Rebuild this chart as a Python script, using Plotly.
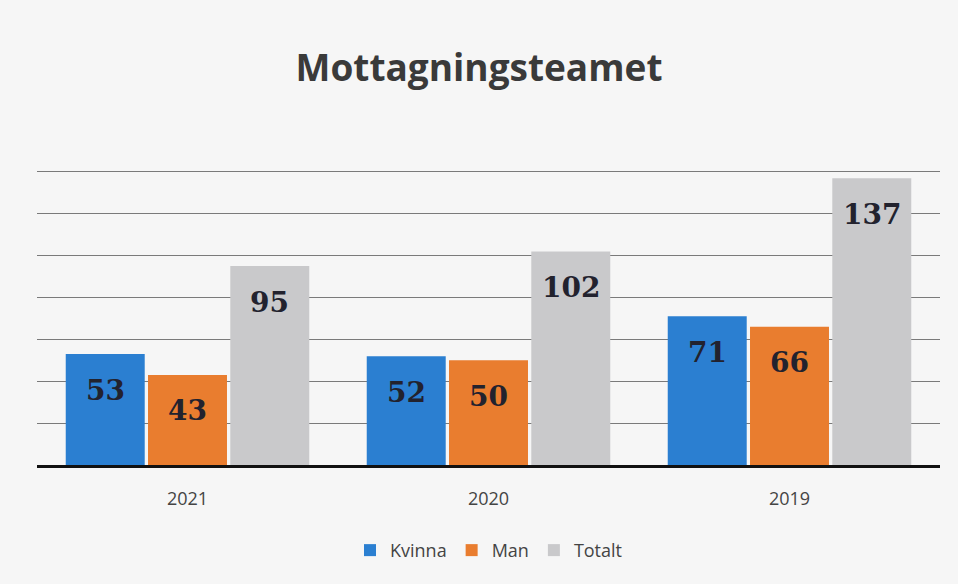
import plotly.graph_objects as go

categories = ["2021", "2020", "2019"]
kvinna = [53, 52, 71]
man = [43, 50, 66]
totalt = [95, 102, 137]
series_names = ["Kvinna", "Man", "Totalt"]
colors = ["#2b7fd1", "#e97d2f", "#c9c9cb"]

BARGAP = 0.18
label_font = dict(family="DejaVu Serif", size=28, color="#22222e")

fig = go.Figure()
series = [kvinna, man, totalt]
n = len(series)
slot = (1 - BARGAP) / n
for k, (name, vals, col) in enumerate(zip(series_names, series, colors)):
    fig.add_trace(go.Bar(
        x=categories, y=vals, name=name, marker_color=col, marker_line_width=0,
    ))
    off = (k - (n - 1) / 2) * slot
    for i, v in enumerate(vals):
        fig.add_annotation(x=i + off, y=v, xref="x", yref="y", text=f"<b>{v}</b>",
                           showarrow=False, yshift=-36, yanchor="middle",
                           font=label_font)

fig.update_layout(
    width=958, height=584,
    paper_bgcolor="#f6f6f6", plot_bgcolor="#f6f6f6",
    margin=dict(l=37, r=18, t=130, b=119),
    barmode="group", bargap=BARGAP, bargroupgap=0.04,
    title=dict(text="<b>Mottagningsteamet</b>", x=0.5, xanchor="center",
               y=1 - 68 / 584, yanchor="middle",
               font=dict(family="Open Sans", size=37, color="#3a3a3a")),
    legend=dict(orientation="h", x=0.5, xanchor="center", y=-0.255, yanchor="middle",
                font=dict(family="Open Sans", size=18, color="#444444"),
                itemwidth=30, traceorder="normal"),
)
fig.update_xaxes(showgrid=False, showline=True, linecolor="#111111", linewidth=3,
                 tickfont=dict(family="Open Sans", size=18, color="#444444"),
                 ticks="", ticklabelstandoff=15)
fig.update_yaxes(range=[0, 160], dtick=20, showticklabels=False, showgrid=True,
                 gridcolor="#7a7a7a", gridwidth=1, zeroline=False)

fig.write_html("out.html", config={"displayModeBar": False},
               post_script="document.body.style.margin='0';")
